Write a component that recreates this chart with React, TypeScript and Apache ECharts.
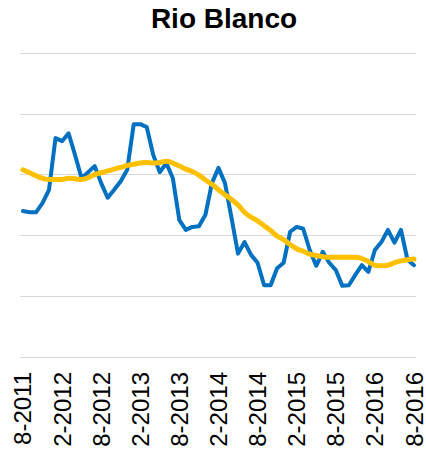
import React, { useEffect, useRef } from "react";
import * as echarts from "echarts";

const TITLE = "Rio Blanco";

// Month index 0 = Aug 2011 ... 60 = Aug 2016
const tickMonths = [0, 6, 12, 18, 24, 30, 36, 42, 48, 54, 60];
const tickLabels = [
  "8-2011", "2-2012", "8-2012", "2-2013", "8-2013", "2-2014",
  "8-2014", "2-2015", "8-2015", "2-2016", "8-2016",
];

const monthlyValues = [
  24.0, 23.8, 23.8, 25.3, 27.5, 36.0, 35.5, 36.8, 33.2, 29.4,
  30.4, 31.4, 28.6, 26.2, 27.5, 28.9, 30.8, 38.3, 38.3, 37.8,
  33.2, 30.4, 31.9, 29.4, 22.5, 20.9, 21.4, 21.5, 23.4, 28.6,
  31.1, 28.6, 22.9, 17.0, 18.9, 16.8, 15.5, 11.8, 11.8, 14.6,
  15.5, 20.6, 21.4, 21.1, 17.6, 15.0, 17.3, 15.5, 14.3, 11.7,
  11.8, 13.5, 15.1, 14.0, 17.6, 18.9, 20.9, 18.8, 20.9, 16.0,
  15.1,
];

const trendValues = [
  30.8, 30.3, 29.8, 29.4, 29.2, 29.2, 29.2, 29.4, 29.3, 29.2,
  29.5, 30.0, 30.3, 30.6, 30.9, 31.2, 31.5, 31.7, 31.9, 32.0,
  31.9, 32.0, 32.2, 31.9, 31.4, 30.9, 30.5, 29.9, 29.1, 28.4,
  27.5, 26.7, 25.9, 25.0, 23.8, 23.0, 22.4, 21.6, 20.8, 19.9,
  19.3, 18.5, 17.8, 17.4, 16.9, 16.7, 16.5, 16.4, 16.4, 16.4,
  16.4, 16.4, 16.2, 15.7, 15.1, 15.0, 15.1, 15.5, 15.8, 16.0,
  16.1,
];

export default function App() {
  const ref = useRef<HTMLDivElement>(null);

  useEffect(() => {
    if (!ref.current) return;
    const chart = echarts.init(ref.current, null, { renderer: "svg" });
    const font = "'Liberation Sans', Arial, sans-serif";
    chart.setOption({
      animation: false,
      backgroundColor: "#ffffff",
      title: {
        text: TITLE,
        left: 224,
        top: 4,
        padding: 0,
        textAlign: "center",
        textStyle: {
          fontFamily: font,
          fontSize: 28,
          fontWeight: "bold",
          color: "#000000",
        },
      },
      grid: { left: 20, right: 2, top: 53, bottom: 93, containLabel: false },
      xAxis: {
        type: "value",
        min: -0.45,
        max: 60.3,
        axisLine: { show: false },
        axisTick: { show: false },
        splitLine: { show: false },
        axisLabel: {
          customValues: tickMonths,
          rotate: 90,
          margin: 15,
          fontFamily: font,
          fontSize: 24,
          color: "#000000",
          formatter: (v: number) => {
            const k = tickMonths.indexOf(Math.round(v));
            return k >= 0 ? tickLabels[k] : "";
          },
        },
      },
      yAxis: {
        type: "value",
        min: 0,
        max: 50,
        interval: 10,
        axisLine: { show: false },
        axisTick: { show: false },
        axisLabel: { show: false },
        splitLine: { lineStyle: { color: "#d9d9d9", width: 1 } },
      },
      series: [
        {
          type: "line",
          data: monthlyValues.map((v, i) => [i, v]),
          showSymbol: false,
          symbol: "none",
          lineStyle: { color: "#0070C0", width: 4, join: "round", cap: "round" },
          z: 2,
        },
        {
          type: "line",
          data: trendValues.map((v, i) => [i, v]),
          showSymbol: false,
          symbol: "none",
          smooth: true,
          lineStyle: { color: "#FFC000", width: 5, cap: "round" },
          z: 3,
        },
      ],
    });
    return () => chart.dispose();
  }, []);

  return (
    <div
      ref={ref}
      style={{ position: "fixed", left: 0, top: 0, width: 426, height: 450 }}
    />
  );
}
